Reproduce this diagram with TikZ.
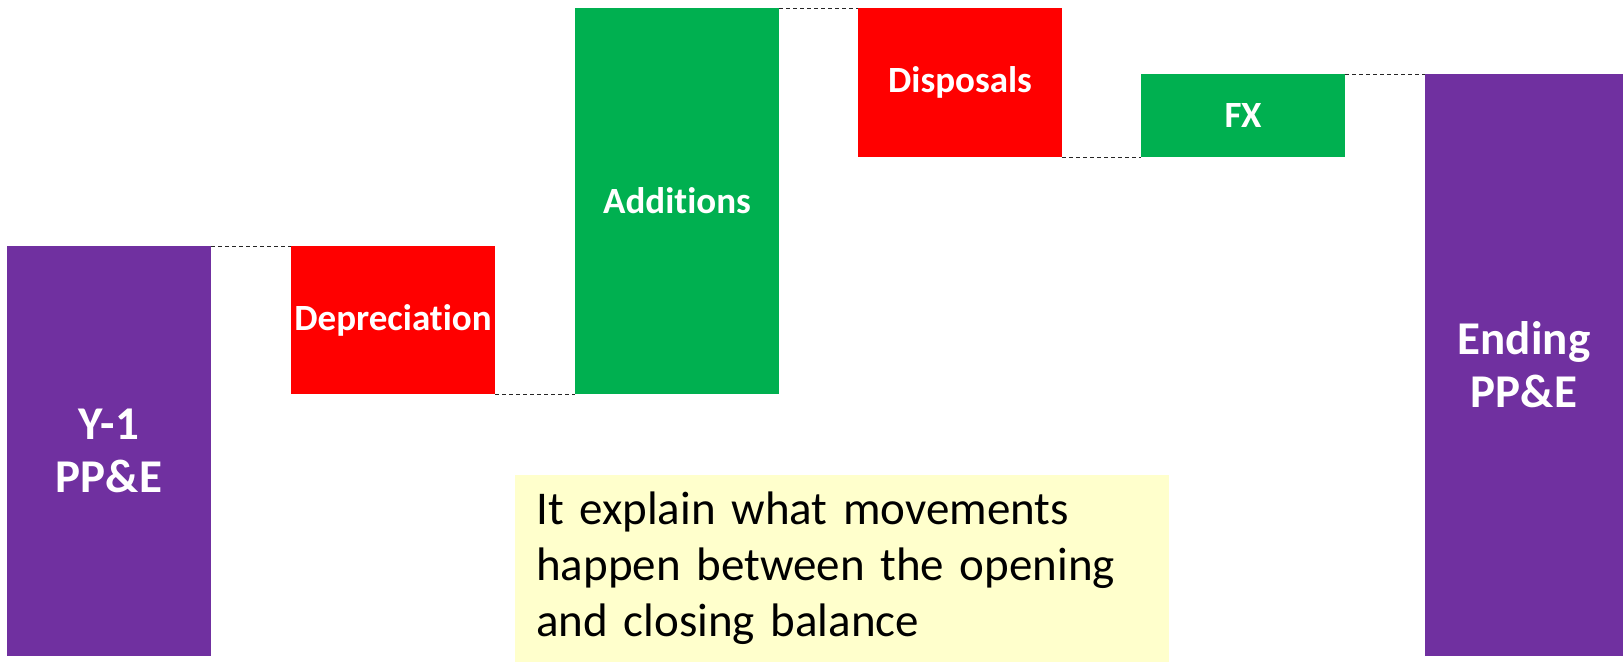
\documentclass[tikz,border=0pt]{standalone}
\usepackage{fontspec}
\setmainfont{Carlito}[RawFeature={-liga;-clig;-calt}, WordSpace=0.8]
\usetikzlibrary{positioning}
\definecolor{barpurple}{HTML}{7030A0}
\definecolor{barred}{HTML}{FF0000}
\definecolor{bargreen}{HTML}{00B050}
\definecolor{noteyellow}{HTML}{FFFFCC}

\begin{document}
\begin{tikzpicture}[
  x=1pt, y=-1pt,
  bar/.style={anchor=north west, minimum width=204pt, inner sep=0pt, outer sep=0pt, text=white, align=center, font=\bfseries\fontsize{37}{44}\selectfont},
  total/.style={bar, fill=barpurple, font=\bfseries\fontsize{47}{53}\selectfont},
  down/.style={bar, fill=barred},
  up/.style={bar, fill=bargreen},
  link/.style={draw=black!85, line width=1pt, dash pattern=on 4pt off 3pt},
  note/.style={anchor=north west, fill=noteyellow, minimum width=654pt, minimum height=187pt, inner xsep=21pt, inner ysep=0pt, text width=612pt, align=left, font=\fontsize{47}{56}\selectfont}
]
\useasboundingbox (0,0) rectangle (1624,662);

\node[total, minimum height=410pt] (open) at (7,246) {Y-1\\PP\&E};
\node[down, minimum height=148pt] (dep) at (291,246) {Depreciation};
\node[up, minimum height=386pt] (add) at (575,8) {Additions};
\node[down, minimum height=149pt] (disp) at (858,8) {Disposals};
\node[up, minimum height=83pt] (fx) at (1141,74) {FX};
\node[total, minimum height=582pt, minimum width=198pt] (close) at (1425,74) {Ending\\PP\&E};

\draw[link] (open.north east) -- (dep.north west);
\draw[link] (dep.south east) -- (add.south west);
\draw[link] (add.north east) -- (disp.north west);
\draw[link] (disp.south east) -- (fx.south west);
\draw[link] (fx.north east) -- (close.north west);

\node[note] (expl) at (515,475) {It explain what movements\\happen between the opening\\and closing balance};

\end{tikzpicture}
\end{document}
